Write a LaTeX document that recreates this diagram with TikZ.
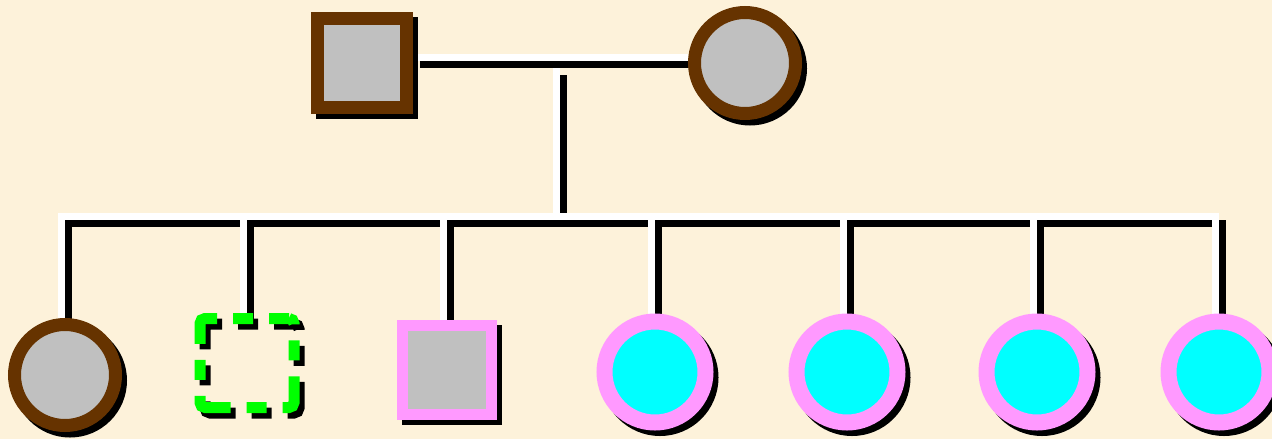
\documentclass[tikz,border=0pt]{standalone}
\usetikzlibrary{backgrounds}
\definecolor{paper}{RGB}{253,242,218}
\definecolor{kinbrown}{RGB}{102,51,0}
\definecolor{kingray}{RGB}{192,192,192}
\definecolor{kinpink}{RGB}{255,153,255}
\definecolor{kincyan}{RGB}{0,255,255}
\definecolor{kingreen}{RGB}{0,255,0}
\begin{document}
\begin{tikzpicture}[x=1pt,y=-1pt]
  \tikzset{
    cast/.style={preaction={draw=black,fill=black,transform canvas={shift={(5pt,-5.5pt)}}}},
    castline/.style={preaction={draw=black,transform canvas={shift={(5pt,-5.5pt)}}}},
    male/.style={rectangle,minimum size=89pt,inner sep=0pt,cast},
    female/.style={circle,minimum size=101pt,inner sep=0pt,cast},
    founder/.style={draw=kinbrown,fill=kingray,line width=13pt},
    carrier/.style={draw=kinpink,fill=kingray,line width=11pt},
    affected/.style={draw=kinpink,fill=kincyan,line width=16pt},
    unknown/.style={rectangle,minimum width=94pt,minimum height=89pt,inner sep=0pt,
      draw=kingreen,line width=11pt,rounded corners=5pt,
      dash pattern=on 40pt off 16pt on 20pt off 16pt,dash phase=20pt,castline},
    link/.style={draw=white,line width=7pt},
    linkshade/.style={draw=black,line width=7pt,transform canvas={shift={(7pt,-7pt)}}}
  }
  \useasboundingbox (0,0) rectangle (1272,439);

  % Parents.
  \node[male,founder] (dad) at (362,62.5) {};
  \node[female,founder] (mom) at (745,63) {};

  % Children, left to right.
  \node[female,founder] (c1) at (65,375) {};
  \node[unknown] (d2) at (247,363) {};
  \node[male,carrier] (s3) at (447,369.5) {};
  \node[female,affected] (c4) at (655,372) {};
  \node[female,affected] (c5) at (847,372) {};
  \node[female,affected] (c6) at (1037,372) {};
  \node[female,affected] (c7) at (1219,372) {};

  \coordinate (mate) at (556.5,57.5);
  \coordinate (sib) at (556.5,216.5);

  % Mating, descent and sibship lines: black shade first, white on top.
  \begin{scope}[on background layer]
    \fill[paper] (0,0) rectangle (1272,439);
    \foreach \pass in {linkshade,link} {
      \draw[\pass] (dad.east |- mate) -- (mom.west |- mate);
      \draw[\pass] ([yshift=-10.5pt]mate) -- (sib);
      \draw[\pass] ([xshift=-3.5pt]c1.north) |- (sib) -| ([xshift=-3.5pt]c7.north);
      \foreach \kid in {d2,s3,c4,c5,c6}
        \draw[\pass] ([xshift=-3.5pt]\kid.north) -- ([xshift=-3.5pt]\kid.north |- sib);
    }
  \end{scope}
\end{tikzpicture}
\end{document}
